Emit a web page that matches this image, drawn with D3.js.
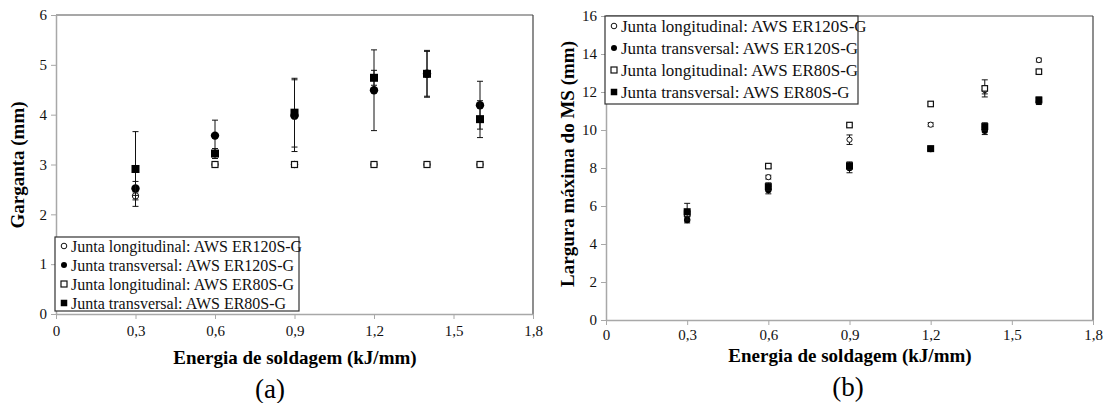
<!DOCTYPE html>
<html><head><meta charset="utf-8">
<script src="https://cdn.jsdelivr.net/npm/d3@7"></script>
<style>
body{margin:0;background:#fff;}
</style></head>
<body><svg id="c" width="1108" height="403" font-family="'Liberation Serif', 'DejaVu Serif', serif"></svg>
<script>
const energy = [0.3, 0.6, 0.9, 1.2, 1.4, 1.6];
const seriesNames = ["Junta longitudinal: AWS ER120S-G","Junta transversal: AWS ER120S-G","Junta longitudinal: AWS ER80S-G","Junta transversal: AWS ER80S-G"];
const xTicks = [0, 0.3, 0.6, 0.9, 1.2, 1.5, 1.8];
const yTicksA = [0,1,2,3,4,5,6];
const yTicksB = [0,2,4,6,8,10,12,14,16];

// (a) Garganta (mm)
const a_long120 = [2.37, 3.0, 3.0, 3.0, 3.0, 3.0];
const a_long120_err = [0.08, 0.03, 0.03, 0.03, 0.03, 0.03];
const a_trans120 = [2.52, 3.58, 3.98, 4.49, 4.82, 4.19];
const a_trans120_err = [0.14, 0.31, 0.72, 0.81, 0.45, 0.48];
const a_long80 = [null, 3.0, 3.0, 3.0, 3.0, 3.0];
const a_long80_err = [0, 0.03, 0.03, 0.03, 0.03, 0.03];
const a_trans80 = [2.91, 3.22, 4.04, 4.74, 4.82, 3.91];
const a_trans80_err = [0.75, 0.10, 0.69, 0.15, 0.47, 0.37];

// (b) Largura máxima do MS (mm)
const b_long120 = [5.5, 7.52, 9.49, 10.28, 12.1, 13.68];
const b_long120_err = [0.2, 0.1, 0.25, 0.1, 0.2, 0.1];
const b_trans120 = [5.26, 6.84, 8.0, 9.0, 9.96, 11.49];
const b_trans120_err = [0.15, 0.2, 0.25, 0.1, 0.2, 0.15];
const b_long80 = [5.6, 8.10, 10.26, 11.37, 12.19, 13.07];
const b_long80_err = [0.1, 0.1, 0.1, 0.1, 0.45, 0.1];
const b_trans80 = [5.7, 7.02, 8.12, 9.02, 10.18, 11.58];
const b_trans80_err = [0.44, 0.2, 0.2, 0.1, 0.2, 0.15];

const FONT = "'Liberation Serif', 'DejaVu Serif', serif";
const svg = d3.select("#c");
const fmt = d => String(d).replace(".", ",");

function drawChart(o) {
  const g = svg.append("g");
  const x = d3.scaleLinear().domain([0, 1.8]).range([o.left, o.right]);
  const y = d3.scaleLinear().domain([0, o.ymax]).range([o.bottom, o.top]);

  // frame
  g.append("line").attr("x1", o.left).attr("x2", o.right).attr("y1", o.top).attr("y2", o.top)
    .attr("stroke", "#8a8a8a").attr("stroke-width", 1.5);
  g.append("line").attr("x1", o.right).attr("x2", o.right).attr("y1", o.top).attr("y2", o.bottom)
    .attr("stroke", "#444").attr("stroke-width", 1.2);

  // axes
  const xa = g.append("g").attr("transform", `translate(0,${o.bottom})`)
    .call(d3.axisBottom(x).tickValues(xTicks).tickFormat(fmt).tickSize(5).tickSizeOuter(0));
  const ya = g.append("g").attr("transform", `translate(${o.left},0)`)
    .call(d3.axisLeft(y).tickValues(o.yTicks).tickFormat(fmt).tickSize(5).tickSizeOuter(0));
  [xa, ya].forEach(a => {
    a.attr("font-family", FONT);
    a.select(".domain").attr("stroke", "#a8a8a8").attr("stroke-width", 1.5);
    a.selectAll(".tick line").attr("stroke", "#a8a8a8").attr("stroke-width", 1);
    a.selectAll(".tick text").attr("fill", "#111").attr("font-size", 15).attr("font-family", FONT);
  });
  xa.selectAll(".tick text").attr("dy", "0.71em").attr("y", o.xLabelDy);
  ya.selectAll(".tick text").attr("x", -9);

  // titles
  g.append("text").attr("x", o.xTitleX).attr("y", o.xTitleY).attr("text-anchor", "middle").attr("font-family", FONT)
    .attr("font-size", 19).attr("font-weight", "bold").text("Energia de soldagem (kJ/mm)");
  g.append("text").attr("transform", `translate(${o.yTitleX},${o.yTitleY}) rotate(-90)`).attr("font-family", FONT)
    .attr("text-anchor", "middle").attr("font-size", 19).attr("font-weight", "bold").text(o.yTitle);
  g.append("text").attr("x", o.xTitleX - o.capShift).attr("y", o.capY).attr("text-anchor", "middle").attr("font-family", FONT)
    .attr("font-size", 27).text(o.cap);

  // series
  const shapes = ["ocircle", "fcircle", "osquare", "fsquare"];
  o.series.forEach((s, si) => {
    const pts = energy.map((e, i) => ({e, v: s.v[i], err: s.err[i]})).filter(p => p.v != null);
    const sg = g.append("g");
    pts.forEach(p => {
      const cx = x(p.e);
      const y1 = y(p.v + p.err), y2 = y(p.v - p.err);
      sg.append("line").attr("x1", cx).attr("x2", cx).attr("y1", y1).attr("y2", y2).attr("stroke", "#111").attr("stroke-width", 1);
      [y1, y2].forEach(yy => sg.append("line").attr("x1", cx - 3).attr("x2", cx + 3).attr("y1", yy).attr("y2", yy).attr("stroke", "#111").attr("stroke-width", 1));
    });
    drawMarkers(sg, pts.map(p => [x(p.e), y(p.v)]), shapes[si], o.msize);
  });

  // legend
  const lg = g.append("g");
  lg.append("rect").attr("x", o.lg.x).attr("y", o.lg.y).attr("width", o.lg.w).attr("height", o.lg.h)
    .attr("fill", "#fff").attr("stroke", "#333").attr("stroke-width", 1.2);
  seriesNames.forEach((n, i) => {
    const yy = o.lg.y + o.lg.first + i * o.lg.step;
    drawMarkers(lg, [[o.lg.x + 9, yy]], shapes[i], o.lgm);
    lg.append("text").attr("x", o.lg.x + 16).attr("y", yy).attr("dy", "0.35em").attr("font-family", FONT)
      .attr("font-size", o.lg.fs).attr("fill", "#111").text(n);
  });
}

function drawMarkers(sel, pts, shape, m) {
  pts.forEach(([cx, cy]) => {
    if (shape === "ocircle") sel.append("circle").attr("cx", cx).attr("cy", cy).attr("r", m.oc).attr("fill", "#fff").attr("stroke", "#111").attr("stroke-width", 1);
    if (shape === "fcircle") sel.append("circle").attr("cx", cx).attr("cy", cy).attr("r", m.fc).attr("fill", "#000");
    if (shape === "osquare") sel.append("rect").attr("x", cx - m.os / 2).attr("y", cy - m.os / 2).attr("width", m.os).attr("height", m.os).attr("fill", "#fff").attr("stroke", "#111").attr("stroke-width", 1.2);
    if (shape === "fsquare") sel.append("rect").attr("x", cx - m.fs / 2).attr("y", cy - m.fs / 2).attr("width", m.fs).attr("height", m.fs).attr("fill", "#000");
  });
}

drawChart({
  left: 56, right: 533, top: 15, bottom: 314, ymax: 6, yTicks: yTicksA, xLabelDy: 11,
  xTitleX: 295, xTitleY: 364, yTitleX: 24, yTitleY: 165, yTitle: "Garganta (mm)",
  cap: "(a)", capY: 398, capShift: 25,
  msize: {oc: 3.2, fc: 4.2, os: 6, fs: 8},
  lgm: {oc: 2.8, fc: 3, os: 6, fs: 6.5},
  series: [
    {v: a_long120, err: a_long120_err},
    {v: a_trans120, err: a_trans120_err},
    {v: a_long80, err: a_long80_err},
    {v: a_trans80, err: a_trans80_err}
  ],
  lg: {x: 55, y: 237, w: 244, h: 74, first: 9, step: 19, fs: 16}
});

drawChart({
  left: 606, right: 1093, top: 16, bottom: 320, ymax: 16, yTicks: yTicksB, xLabelDy: 9,
  xTitleX: 850, xTitleY: 362, yTitleX: 574, yTitleY: 164, yTitle: "Largura máxima do MS (mm)",
  cap: "(b)", capY: 396, capShift: 2,
  msize: {oc: 2.6, fc: 3.2, os: 5.5, fs: 7},
  lgm: {oc: 2.8, fc: 3, os: 6, fs: 6.5},
  series: [
    {v: b_long120, err: b_long120_err},
    {v: b_trans120, err: b_trans120_err},
    {v: b_long80, err: b_long80_err},
    {v: b_trans80, err: b_trans80_err}
  ],
  lg: {x: 605, y: 16, w: 253, h: 88, first: 10, step: 22, fs: 17}
});
</script></body></html>
